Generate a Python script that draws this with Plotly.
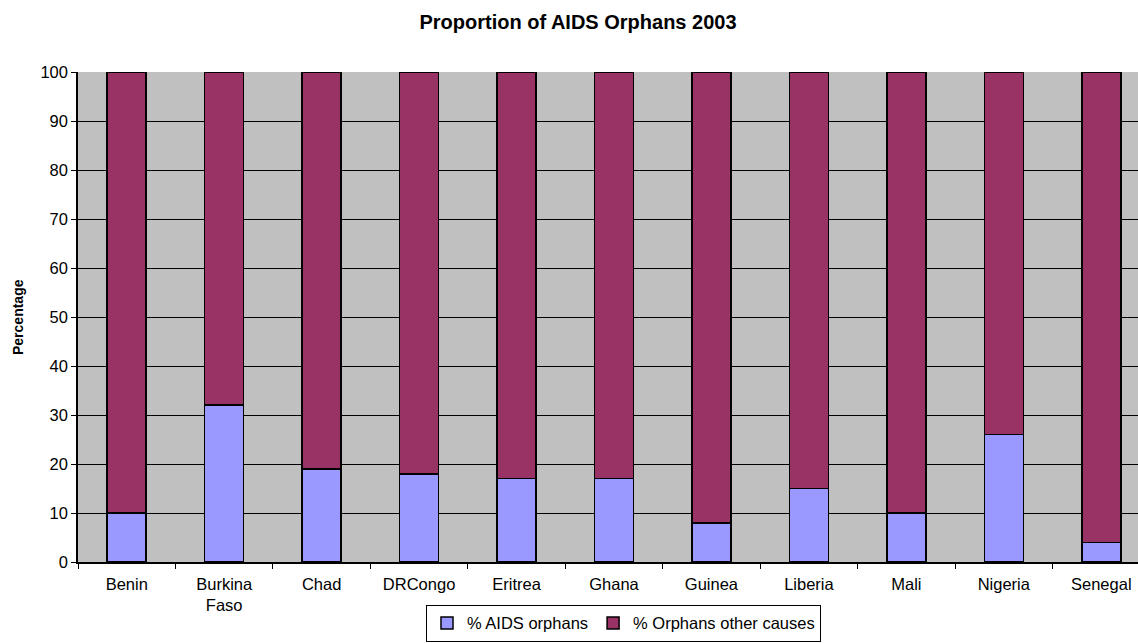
import plotly.graph_objects as go

countries = ["Benin", "Burkina<br>Faso", "Chad", "DRCongo", "Eritrea", "Ghana",
             "Guinea", "Liberia", "Mali", "Nigeria", "Senegal"]
aids_orphans = [10, 32, 19, 18, 17, 17, 8, 15, 10, 26, 4]
other_causes = [90, 68, 81, 82, 83, 83, 92, 85, 90, 74, 96]
y_ticks = [0, 10, 20, 30, 40, 50, 60, 70, 80, 90, 100]

W, H = 1138, 643
ML, MR, MT, MB = 78, 0, 72, 81
FONT = "Liberation Sans, Arial, sans-serif"

fig = go.Figure()
fig.add_trace(go.Bar(x=countries, y=aids_orphans, name="% AIDS orphans",
                     marker=dict(color="#9999FF", line=dict(color="black", width=1.5)),
                     width=0.4))
fig.add_trace(go.Bar(x=countries, y=other_causes, name="% Orphans other causes",
                     marker=dict(color="#993366", line=dict(color="black", width=1.5)),
                     width=0.4))

# the last category runs slightly past the visible plot edge
step = 97.5
right_cut = 10.5 - (1150 - 1138) / step

fig.add_annotation(text="<b>Percentage</b>", textangle=-90,
                   xref="paper", x=(18 - ML) / (W - ML - MR), xanchor="center",
                   yref="paper", y=0.5, yanchor="middle", showarrow=False,
                   font=dict(size=14, family=FONT))

fig.update_layout(
    width=W, height=H,
    barmode="stack",
    margin=dict(l=ML, r=MR, t=MT, b=MB),
    paper_bgcolor="white",
    plot_bgcolor="#C0C0C0",
    font=dict(family=FONT, size=16, color="black"),
    title=dict(text="<b>Proportion of AIDS Orphans 2003</b>",
               x=578 / W, xanchor="center", y=1 - 22 / H, yanchor="middle",
               font=dict(size=20)),
    xaxis=dict(range=[-0.5, right_cut], showgrid=False, zeroline=False,
               ticks="outside", tickson="boundaries", ticklen=5, tickcolor="black",
               showline=True, linecolor="black", linewidth=1.5,
               tickfont=dict(size=16.5), automargin=False, ticklabelstandoff=6),
    yaxis=dict(range=[0, 100], tickvals=y_ticks, showgrid=True, gridcolor="black",
               gridwidth=1, zeroline=False, ticks="outside", ticklen=5,
               tickcolor="black", showline=True, linecolor="black", linewidth=1.5,
               tickfont=dict(size=16.5), automargin=False),
    legend=dict(orientation="h", xref="container", x=426 / W, xanchor="left",
                yref="container", y=0.002, yanchor="bottom",
                bordercolor="black", borderwidth=1, bgcolor="white",
                font=dict(size=16.5), traceorder="normal",
                itemwidth=30, tracegroupgap=0),
)

fig.write_html("out.html")
